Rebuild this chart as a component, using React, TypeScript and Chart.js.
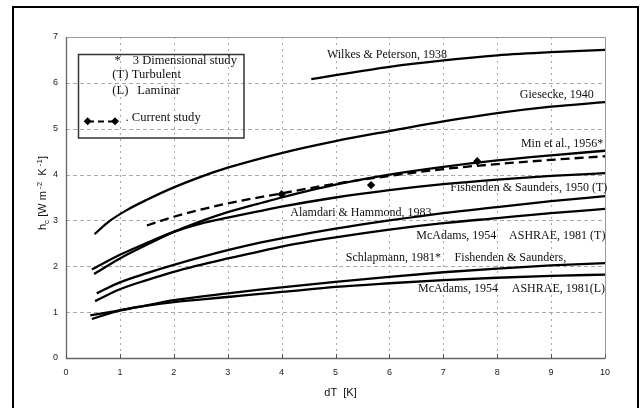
import React, { useEffect, useRef } from "react";
import { Chart, registerables } from "chart.js";

Chart.register(...registerables);

// ---- axis ticks ----
const xTicks = [0, 1, 2, 3, 4, 5, 6, 7, 8, 9, 10];
const yTicks = [0, 1, 2, 3, 4, 5, 6, 7];

// ---- series (dT [K] -> h_c [W m-2 K-1]) ----
const wilkesX = [4.55, 5, 5.5, 6, 7, 8, 9, 10];
const wilkesY = [6.08, 6.17, 6.26, 6.35, 6.49, 6.6, 6.67, 6.72];

const gieseckeX = [0.53, 0.8, 1.15, 1.5, 2, 2.5, 3, 4, 5, 6, 7, 8, 9, 10];
const gieseckeY = [2.7, 2.98, 3.24, 3.45, 3.72, 3.95, 4.15, 4.47, 4.73, 4.95, 5.16, 5.34, 5.48, 5.58];

const minX = [0.52, 1, 1.5, 2, 2.5, 3, 3.62, 4, 5, 6, 7, 8, 9, 10];
const minY = [1.83, 2.17, 2.47, 2.75, 2.98, 3.18, 3.38, 3.5, 3.78, 4.0, 4.17, 4.31, 4.42, 4.52];

const fsTurbX = [0.48, 1, 1.5, 2, 2.5, 3, 3.62, 4, 5, 6, 7, 8, 9, 10];
const fsTurbY = [1.93, 2.25, 2.51, 2.75, 2.93, 3.06, 3.21, 3.3, 3.5, 3.66, 3.79, 3.89, 3.97, 4.03];

const alamdariX = [0.57, 1, 1.5, 2, 3, 3.62, 4, 5, 6, 7, 8, 9, 10];
const alamdariY = [1.41, 1.65, 1.85, 2.03, 2.35, 2.52, 2.61, 2.82, 3.0, 3.16, 3.29, 3.42, 3.53];

const mcAdamsTX = [0.54, 1, 1.5, 2, 3, 3.62, 4, 5, 6, 7, 8, 9, 10];
const mcAdamsTY = [1.24, 1.5, 1.7, 1.88, 2.17, 2.33, 2.43, 2.63, 2.8, 2.94, 3.05, 3.16, 3.25];

const schlapmannX = [0.48, 1, 1.5, 2, 3, 3.6, 4, 5, 6, 7, 8, 9, 10];
const schlapmannY = [0.85, 1.04, 1.15, 1.26, 1.41, 1.49, 1.54, 1.66, 1.77, 1.87, 1.95, 2.02, 2.07];

const mcAdamsLX = [0.45, 1, 1.5, 2, 3, 3.6, 4, 5, 6, 7, 8, 9, 10];
const mcAdamsLY = [0.93, 1.04, 1.14, 1.22, 1.33, 1.4, 1.44, 1.55, 1.63, 1.7, 1.75, 1.79, 1.82];

const currentFitX = [1.5, 2, 3, 4, 5, 6, 7, 8, 9, 10];
const currentFitY = [2.89, 3.08, 3.37, 3.59, 3.8, 3.97, 4.12, 4.23, 4.32, 4.4];

const currentPtsX = [4.0, 5.66, 7.63];
const currentPtsY = [3.57, 3.77, 4.29];

// ---- curve annotations (text placed at data coordinates) ----
const curveLabels = [
  { text: "Wilkes & Peterson, 1938", x: 4.84, y: 6.6 },
  { text: "Giesecke, 1940", x: 8.42, y: 5.74 },
  { text: "Min et al., 1956*", x: 8.44, y: 4.66 },
  { text: "Fishenden & Saunders, 1950 (T)", x: 7.13, y: 3.72 },
  { text: "Alamdari & Hammond, 1983", x: 4.16, y: 3.17 },
  { text: "McAdams, 1954", x: 6.5, y: 2.66 },
  { text: "ASHRAE, 1981 (T)", x: 8.22, y: 2.66 },
  { text: "Schlapmann, 1981*", x: 5.19, y: 2.19 },
  { text: "Fishenden & Saunders,", x: 7.21, y: 2.19 },
  { text: "McAdams, 1954", x: 6.53, y: 1.5 },
  { text: "ASHRAE, 1981(L)", x: 8.27, y: 1.5 },
];

const xTitle = "dT  [K]";

const pts = (xs: number[], ys: number[]) => xs.map((x, i) => ({ x, y: ys[i] }));

const SERIF = '"Liberation Serif", "Times New Roman", serif';
const SANS = '"Liberation Sans", Arial, sans-serif';

const solid = (label: string, xs: number[], ys: number[]) => ({
  label,
  data: pts(xs, ys),
  showLine: true,
  borderColor: "#000",
  borderWidth: 2.3,
  pointRadius: 0,
  tension: 0.4,
  cubicInterpolationMode: "monotone" as const,
  fill: false,
});

const decorPlugin = {
  id: "decor",
  beforeDatasetsDraw(chart: any) {
    const { ctx, chartArea: a, scales } = chart;
    const xs = scales.x;
    const ys = scales.y;
    ctx.save();
    ctx.lineWidth = 1;
    ctx.strokeStyle = "#a8a8a8";
    ctx.setLineDash([2, 4]);
    for (const v of xTicks) {
      if (v === xTicks[0] || v === xTicks[xTicks.length - 1]) continue;
      const px = Math.round(xs.getPixelForValue(v)) + 0.5;
      ctx.beginPath();
      ctx.moveTo(px, a.top);
      ctx.lineTo(px, a.bottom);
      ctx.stroke();
    }
    ctx.setLineDash([4, 3]);
    for (const v of yTicks) {
      if (v === yTicks[0] || v === yTicks[yTicks.length - 1]) continue;
      const py = Math.round(ys.getPixelForValue(v)) + 0.5;
      ctx.beginPath();
      ctx.moveTo(a.left, py);
      ctx.lineTo(a.right, py);
      ctx.stroke();
    }
    ctx.setLineDash([]);
    // frame
    ctx.strokeStyle = "#9a9a9a";
    ctx.strokeRect(Math.round(a.left) + 0.5, Math.round(a.top) + 0.5, Math.round(a.right - a.left), Math.round(a.bottom - a.top));
    ctx.strokeStyle = "#666";
    ctx.lineWidth = 1.3;
    ctx.beginPath();
    ctx.moveTo(Math.round(a.left) + 0.5, a.top);
    ctx.lineTo(Math.round(a.left) + 0.5, Math.round(a.bottom) + 0.5);
    ctx.lineTo(a.right, Math.round(a.bottom) + 0.5);
    ctx.stroke();
    // small tick marks on x axis
    ctx.lineWidth = 1;
    ctx.strokeStyle = "#555";
    for (const v of xTicks) {
      const px = Math.round(xs.getPixelForValue(v)) + 0.5;
      ctx.beginPath();
      ctx.moveTo(px, a.bottom);
      ctx.lineTo(px, a.bottom - 4);
      ctx.stroke();
    }
    ctx.restore();
  },
  afterDatasetsDraw(chart: any) {
    const { ctx, scales } = chart;
    const xs = scales.x;
    const ys = scales.y;
    ctx.save();
    ctx.fillStyle = "#111";
    ctx.font = `12px ${SERIF}`;
    ctx.textAlign = "left";
    ctx.textBaseline = "middle";
    for (const l of curveLabels) {
      ctx.fillText(l.text, xs.getPixelForValue(l.x), ys.getPixelForValue(l.y));
    }

    // legend box
    ctx.strokeStyle = "#333";
    ctx.lineWidth = 1.5;
    ctx.strokeRect(78.5, 54.5, 165.5, 83.5);
    ctx.font = `12.6px ${SERIF}`;
    ctx.fillText("*", 114.5, 60.5);
    ctx.fillText("3 Dimensional study", 132.7, 61);
    ctx.fillText("(T)", 112.3, 75);
    ctx.fillText("Turbulent", 131.7, 75);
    ctx.fillText("(L)", 112.3, 91);
    ctx.fillText("Laminar", 137.3, 91);
    ctx.fillText(". Current study", 125.5, 117.5);
    ctx.strokeStyle = "#000";
    ctx.lineWidth = 2;
    ctx.setLineDash([6, 4]);
    ctx.beginPath();
    ctx.moveTo(88, 121.5);
    ctx.lineTo(115, 121.5);
    ctx.stroke();
    ctx.setLineDash([]);
    ctx.fillStyle = "#000";
    for (const cx of [87.7, 115]) {
      ctx.beginPath();
      ctx.moveTo(cx, 117.3);
      ctx.lineTo(cx + 4, 121.3);
      ctx.lineTo(cx, 125.3);
      ctx.lineTo(cx - 4, 121.3);
      ctx.closePath();
      ctx.fill();
    }
    ctx.restore();
  },
  afterDraw(chart: any) {
    const { ctx, chartArea: a } = chart;
    ctx.save();
    // x title
    ctx.fillStyle = "#111";
    ctx.font = `11px ${SANS}`;
    ctx.textAlign = "center";
    ctx.textBaseline = "middle";
    ctx.fillText(xTitle, (a.left + a.right) / 2 + 5, 393);

    // y title with sub/superscripts
    const parts: { t: string; size: number; dy: number }[] = [
      { t: "h", size: 11, dy: 0 },
      { t: "c", size: 8, dy: 3 },
      { t: " [W m", size: 11, dy: 0 },
      { t: " -2", size: 8, dy: -4 },
      { t: "  K", size: 11, dy: 0 },
      { t: " -1", size: 8, dy: -4 },
      { t: "]", size: 11, dy: 0 },
    ];
    let total = 0;
    for (const p of parts) {
      ctx.font = `${p.size}px ${SANS}`;
      total += ctx.measureText(p.t).width;
    }
    ctx.translate(41.5, 193);
    ctx.rotate(-Math.PI / 2);
    ctx.textAlign = "left";
    ctx.textBaseline = "alphabetic";
    let cx = -total / 2;
    for (const p of parts) {
      ctx.font = `${p.size}px ${SANS}`;
      ctx.fillText(p.t, cx, 4 + p.dy);
      cx += ctx.measureText(p.t).width;
    }
    ctx.restore();

    // outer frame
    ctx.save();
    ctx.strokeStyle = "#000";
    ctx.lineWidth = 2;
    ctx.strokeRect(13, 7, 625, 412);
    ctx.restore();
  },
};

export default function App() {
  const ref = useRef<HTMLCanvasElement | null>(null);

  useEffect(() => {
    if (!ref.current) return;
    const chart = new Chart(ref.current, {
      type: "scatter",
      data: {
        datasets: [
          solid("Wilkes & Peterson, 1938", wilkesX, wilkesY),
          solid("Giesecke, 1940", gieseckeX, gieseckeY),
          solid("Min et al., 1956*", minX, minY),
          solid("Fishenden & Saunders, 1950 (T)", fsTurbX, fsTurbY),
          solid("Alamdari & Hammond, 1983", alamdariX, alamdariY),
          solid("McAdams, 1954 / ASHRAE, 1981 (T)", mcAdamsTX, mcAdamsTY),
          solid("Schlapmann, 1981* / Fishenden & Saunders (L)", schlapmannX, schlapmannY),
          solid("McAdams, 1954 / ASHRAE, 1981 (L)", mcAdamsLX, mcAdamsLY),
          {
            label: "Current study (fit)",
            data: pts(currentFitX, currentFitY),
            showLine: true,
            borderColor: "#000",
            borderWidth: 2.3,
            borderDash: [9, 5],
            pointRadius: 0,
            tension: 0.4,
            cubicInterpolationMode: "monotone",
            fill: false,
          } as any,
          {
            label: "Current study",
            data: pts(currentPtsX, currentPtsY),
            showLine: false,
            pointStyle: "rectRot",
            pointRadius: 4.2,
            backgroundColor: "#000",
            borderColor: "#000",
            borderWidth: 0,
          } as any,
        ],
      },
      options: {
        responsive: false,
        animation: false,
        devicePixelRatio: 1,
        layout: { padding: { left: 0, top: 37, right: 35, bottom: 0 } },
        plugins: { legend: { display: false }, tooltip: { enabled: false } },
        scales: {
          x: {
            type: "linear",
            min: 0,
            max: 10,
            afterFit: (s: any) => {
              s.height = 50;
            },
            afterBuildTicks: (s: any) => {
              s.ticks = xTicks.map((v) => ({ value: v }));
            },
            grid: { display: false, drawTicks: false },
            border: { display: false },
            ticks: { color: "#222", font: { family: SANS, size: 9 }, padding: 9, maxRotation: 0 },
          },
          y: {
            type: "linear",
            min: 0,
            max: 7,
            afterFit: (s: any) => {
              s.width = 66;
            },
            afterBuildTicks: (s: any) => {
              s.ticks = yTicks.map((v) => ({ value: v }));
            },
            grid: { display: false, drawTicks: false },
            border: { display: false },
            ticks: { color: "#222", font: { family: SANS, size: 9 }, padding: 8 },
          },
        },
      } as any,
      plugins: [decorPlugin],
    });
    return () => chart.destroy();
  }, []);

  return (
    <div style={{ position: "absolute", left: 0, top: 0, width: 640, height: 408, background: "#fff" }}>
      <canvas ref={ref} width={640} height={408} style={{ display: "block" }} />
    </div>
  );
}
